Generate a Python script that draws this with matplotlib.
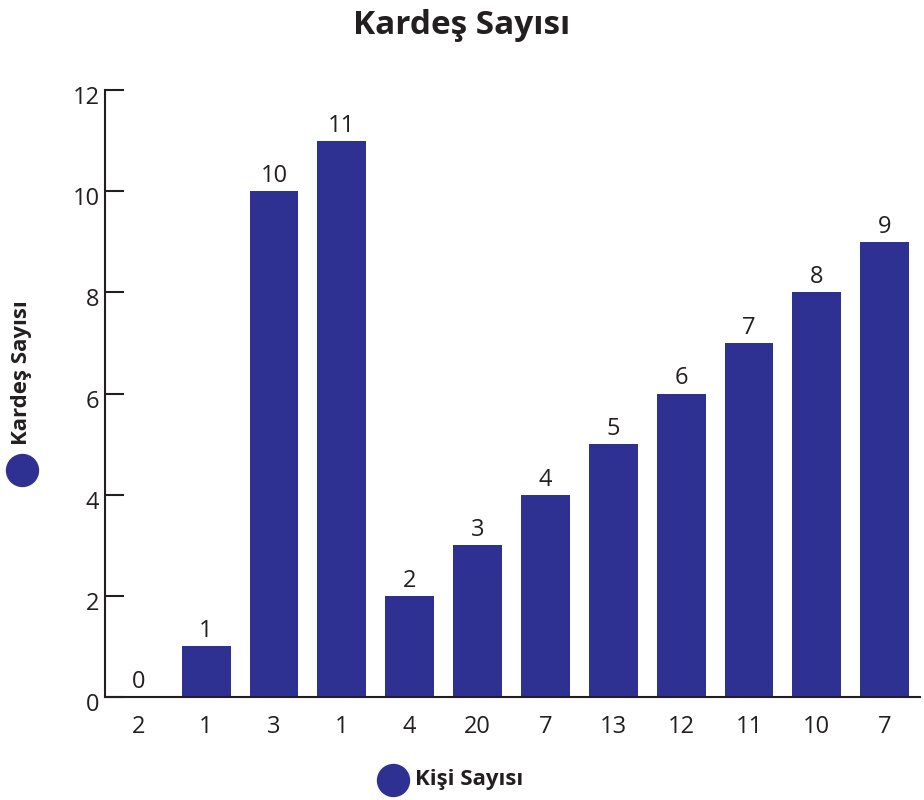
import matplotlib
matplotlib.use("Agg")
import matplotlib.pyplot as plt
from matplotlib.lines import Line2D
from matplotlib.transforms import ScaledTranslation

plt.rcParams["font.family"] = ["Open Sans", "DejaVu Sans"]

kisi_sayisi = ["2", "1", "3", "1", "4", "20", "7", "13", "12", "11", "10", "7"]
kardes_sayisi = [0, 1, 10, 11, 2, 3, 4, 5, 6, 7, 8, 9]
y_ticks = [0, 2, 4, 6, 8, 10, 12]

bar_color = "#2E3192"
ink = "#231F20"

fig = plt.figure(figsize=(9.24, 8), dpi=100)
ax = fig.add_axes([105 / 924, 1 - 697 / 800, 815 / 924, 607 / 800])

x = list(range(len(kardes_sayisi)))
ax.bar(x, kardes_sayisi, width=0.72, color=bar_color, zorder=2)
for xi, v in zip(x, kardes_sayisi):
    ax.text(xi, v + 0.06, str(v), ha="center", va="bottom", fontsize=17, color=ink)

ax.set_xlim(-0.49, 11.52)
ax.set_ylim(0, 12)
ax.set_yticks(y_ticks)
ax.set_yticklabels([str(t) for t in y_ticks], fontsize=17, color=ink)
ax.set_xticks(x)
ax.set_xticklabels(kisi_sayisi, fontsize=17, color=ink)
ax.tick_params(axis="y", direction="in", length=14, width=1.5, color=ink, pad=4)
ax.tick_params(axis="x", length=0, pad=13)

# y labels sit a little below their ticks in the reference
shift = ScaledTranslation(0, -5 / 100, fig.dpi_scale_trans)
for lbl in ax.get_yticklabels():
    lbl.set_transform(lbl.get_transform() + shift)

for side in ["top", "right"]:
    ax.spines[side].set_visible(False)
ax.spines["left"].set_linewidth(1.5)
ax.spines["left"].set_color(ink)
ax.spines["bottom"].set_linewidth(1.5)
ax.spines["bottom"].set_color(ink)
ax.spines["bottom"].set_zorder(3)

fig.text(0.5, 1 - 25 / 800, "Kardeş Sayısı", ha="center", va="center",
         fontsize=24, fontweight="bold", color=ink)

fig.text(22 / 924, 1 - 373 / 800, "Kardeş Sayısı", ha="center", va="center",
         rotation=90, fontsize=16, fontweight="bold", color=ink)
fig.add_artist(Line2D([22 / 924], [1 - 470 / 800], marker="o", markersize=23,
                      color=bar_color, transform=fig.transFigure))

fig.text(415 / 924, 1 - 780 / 800, "Kişi Sayısı", ha="left", va="center",
         fontsize=16, fontweight="bold", color=ink)
fig.add_artist(Line2D([393 / 924], [1 - 780 / 800], marker="o", markersize=23,
                      color=bar_color, transform=fig.transFigure))

fig.savefig("out.png", dpi=100)
